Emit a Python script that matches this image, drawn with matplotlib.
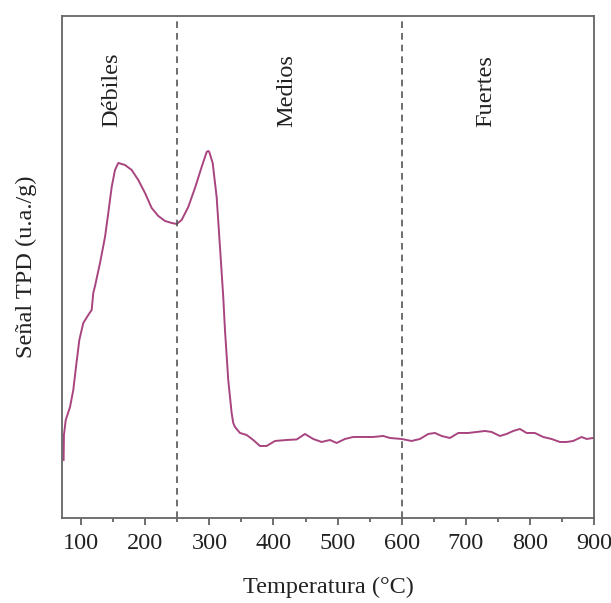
import numpy as np
import matplotlib.pyplot as plt
from matplotlib.ticker import MultipleLocator

# TPD signal (temperature in C, signal in arbitrary units)
temperature = [72.5, 73, 75.8, 82.5, 87.6, 91.8, 97, 103.2, 111, 116.3, 118.8, 121.5,
               129.3, 137.1, 142.2, 147.5, 152.7, 157.8, 168.3, 178.7, 189, 199.5,
               209.9, 220.2, 230.7, 241.1, 248.9, 256.7, 267, 277.5, 287.9, 295.7,
               298.2, 299.8, 305.1, 311.3, 316.5, 321.6, 324.3, 329.4, 334.7, 337.2,
               339.9, 347.7, 358.1, 368.4, 378.9, 389.3, 402.3, 420.5, 436.1, 449.1,
               462, 475.1, 488.1, 498.5, 511.5, 524.4, 540, 555.6, 571.2, 581.7, 600,
               615.5, 628.5, 641.5, 651.9, 662.4, 675.3, 688.3, 703.9, 717, 730,
               740.4, 753.3, 763.8, 774.1, 784.5, 795, 807.9, 820.9, 834, 846.9,
               857.4, 867.7, 880.8, 888.6, 898.9]
signal = [58, 83, 98, 111, 128, 151, 178, 195, 203, 208, 225, 232,
          255, 281, 305, 331, 348, 355, 353, 348, 338, 325,
          310, 302, 297, 295, 294, 298, 311, 330, 351, 366,
          367, 366, 355, 321, 271, 221, 188, 138, 105, 95,
          91, 85, 83, 78, 72, 72, 77, 78, 78.5, 84,
          79, 76, 78, 75, 79, 81, 81, 81, 82, 80, 79,
          77, 79, 84, 85, 82, 80, 85, 85, 86, 87,
          86, 82, 84, 87, 89, 85, 85, 81, 79, 76,
          76, 77, 81, 79, 80]

# Acid site regions
boundaries = [250, 600]
region_names = ['Débiles', 'Medios', 'Fuertes']
region_x = [148, 420, 732]

plt.rcParams['font.family'] = ['Liberation Serif', 'DejaVu Serif']

fig = plt.figure(figsize=(6.11, 6.03), dpi=100)
ax = fig.add_axes([0.1015, 0.141, 0.8705, 0.8325])

ax.plot(temperature, signal, color='#a8447f', linewidth=1.4)

for b in boundaries:
    ax.axvline(b, color='#555555', linestyle='--', linewidth=1.2, dashes=(4, 3))

for name, xr in zip(region_names, region_x):
    ax.text(xr, 391, name, rotation=90, ha='center', va='bottom', fontsize=17.5, color='#222222')

ax.set_xlim(70, 900)
ax.set_ylim(0, 502)
ax.set_yticks([])
ax.xaxis.set_major_locator(MultipleLocator(100))
ax.xaxis.set_minor_locator(MultipleLocator(50))
ax.tick_params(axis='x', which='major', direction='out', length=5, width=1.2,
               colors='#555555', labelcolor='#222222', labelsize=17.5, pad=6)
ax.tick_params(axis='x', which='minor', direction='out', length=3, width=1.2, colors='#555555')
for s in ax.spines.values():
    s.set_color('#666666')
    s.set_linewidth(1.3)

ax.set_xlabel('Temperatura (°C)', fontsize=17.5, color='#222222', labelpad=16)
ax.set_ylabel('Señal TPD (u.a./g)', fontsize=17.5, color='#222222', labelpad=18)

fig.savefig('out.png', dpi=100)
